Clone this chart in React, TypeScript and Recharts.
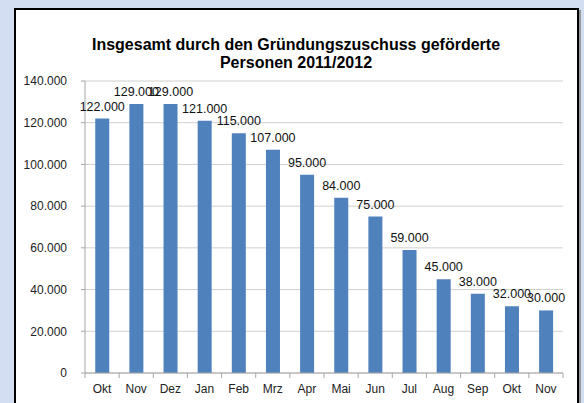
import React from "react";
import { BarChart, Bar, XAxis, YAxis, CartesianGrid, LabelList } from "recharts";

const months = ["Okt", "Nov", "Dez", "Jan", "Feb", "Mrz", "Apr", "Mai", "Jun", "Jul", "Aug", "Sep", "Okt", "Nov"];
const persons = [122000, 129000, 129000, 121000, 115000, 107000, 95000, 84000, 75000, 59000, 45000, 38000, 32000, 30000];
const yTicks = [0, 20000, 40000, 60000, 80000, 100000, 120000, 140000];
const titleLines = ["Insgesamt durch den Gründungszuschuss geförderte", "Personen 2011/2012"];

const data = months.map((m, i) => ({ key: `${m}-${i}`, month: m, value: persons[i] }));

const fmt = (v: number) => (v === 0 ? "0" : v.toLocaleString("de-DE"));

const W = 584;
const H = 403;
const M = { top: 81, right: 21, left: 25, bottom: 0 };
const Y_W = 60;
const plotW = W - M.left - M.right - Y_W;
const band = plotW / months.length;

const XTick = (props: any) => {
  const { x, y, payload, index } = props;
  return (
    <g>
      <line x1={x - band / 2} x2={x - band / 2} y1={y - 8} y2={y - 3} stroke="#a6a6a6" />
      {index === months.length - 1 && (
        <line x1={x + band / 2} x2={x + band / 2} y1={y - 8} y2={y - 3} stroke="#a6a6a6" />
      )}
      <text x={x} y={y + 12} textAnchor="middle" fontSize={12} fill="#222" fontFamily="Liberation Sans, Arial, sans-serif">
        {months[index] ?? payload.value}
      </text>
    </g>
  );
};

export default function App() {
  return (
    <div style={{ position: "fixed", left: 0, top: 0, width: W, height: H, background: "#d4def3", overflow: "hidden" }}>
      <div
        style={{
          position: "absolute",
          left: 14,
          top: 8,
          width: 561,
          height: 420,
          background: "#fff",
          border: "2px solid #000",
          boxShadow: "2px 2px 0 #9a9a9a",
        }}
      />
      <div style={{ position: "absolute", left: 0, top: 0 }}>
        <BarChart width={W} height={H} data={data} margin={M} barCategoryGap="30%">
          <text x={296} y={50} textAnchor="middle" fontSize={16} fontWeight="bold" fill="#000" fontFamily="Liberation Sans, Arial, sans-serif">
            {titleLines[0]}
          </text>
          <text x={296} y={68} textAnchor="middle" fontSize={16} fontWeight="bold" fill="#000" fontFamily="Liberation Sans, Arial, sans-serif">
            {titleLines[1]}
          </text>
          <CartesianGrid vertical={false} stroke="#d0d0d0" />
          <XAxis
            dataKey="key"
            height={30}
            stroke="#a6a6a6"
            tickLine={false}
            tick={<XTick />}
            interval={0}
          />
          <YAxis
            width={Y_W}
            domain={[0, 140000]}
            ticks={yTicks}
            tickFormatter={fmt}
            stroke="#a6a6a6"
            tickSize={4}
            tickMargin={14}
            tick={{ fontSize: 12, fill: "#222", fontFamily: "Liberation Sans, Arial, sans-serif" }}
            interval={0}
          />
          <Bar dataKey="value" fill="#4f81bd" isAnimationActive={false}>
            <LabelList
              dataKey="value"
              position="top"
              offset={8}
              formatter={(v: any) => fmt(Number(v))}
              style={{ fontSize: 12.5, fill: "#111", fontFamily: "Liberation Sans, Arial, sans-serif" }}
            />
          </Bar>
        </BarChart>
      </div>
    </div>
  );
}
